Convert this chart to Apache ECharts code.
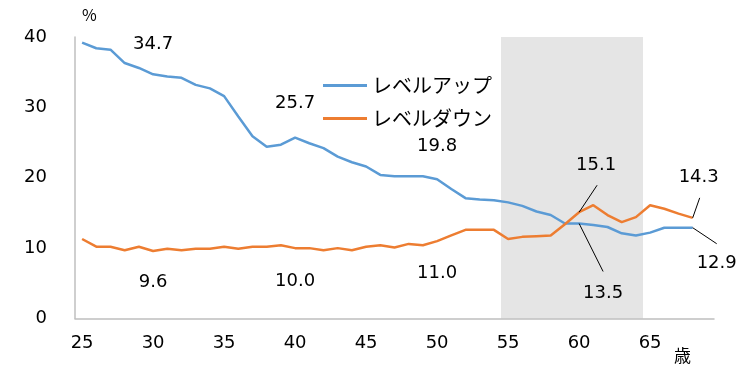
<!DOCTYPE html>
<html>
<head>
<meta charset="utf-8">
<script src="https://cdn.jsdelivr.net/npm/echarts@6/dist/echarts.min.js"></script>
<style>
  html, body { margin: 0; padding: 0; background: #fff; }
  #chart { width: 747px; height: 378px; }
</style>
</head>
<body>
<div id="chart"></div>
<script>
// 年齢 (25〜69歳、69は空き)
const ages = ['25', '26', '27', '28', '29', '30', '31', '32', '33', '34',
  '35', '36', '37', '38', '39', '40', '41', '42', '43', '44',
  '45', '46', '47', '48', '49', '50', '51', '52', '53', '54',
  '55', '56', '57', '58', '59', '60', '61', '62', '63', '64',
  '65', '66', '67', '68', '69']

const levelUp = [39.2, 38.4, 38.2, 36.3, 35.6, 34.7, 34.4, 34.2, 33.2, 32.7,
  31.6, 28.7, 25.9, 24.4, 24.7, 25.7, 24.9, 24.2, 23.0, 22.2,
  21.6, 20.4, 20.2, 20.2, 20.2, 19.8, 18.4, 17.1, 16.9, 16.8,
  16.5, 16.0, 15.2, 14.7, 13.5, 13.5, 13.3, 13.0, 12.1, 11.8,
  12.2, 12.9, 12.9, 12.9, null]

const levelDown = [11.3, 10.2, 10.2, 9.7, 10.2, 9.6, 9.9, 9.7, 9.9, 9.9,
  10.2, 9.9, 10.2, 10.2, 10.4, 10.0, 10.0, 9.7, 10.0, 9.7,
  10.2, 10.4, 10.1, 10.6, 10.4, 11.0, 11.8, 12.6, 12.6, 12.6,
  11.3, 11.6, 11.7, 11.8, 13.4, 15.1, 16.1, 14.7, 13.7, 14.4,
  16.1, 15.6, 14.9, 14.3, null]

// 網掛けの範囲 (55〜64歳)
const shadeFrom = '55'
const shadeTo = '64'
const yTicks = { min: 0, max: 40, interval: 10 }

// 数値ラベルを付ける年齢と、ラベルの位置ずれ [dx, dy]
const upLabels = { '30': [0, -30], '40': [0, -34], '50': [0, -33], '60': [24, 70], '68': [24, 36] }
const downLabels = { '30': [0, 31], '40': [0, 33], '50': [0, 32], '60': [17, -47], '68': [6, -41] }
// 引き出し線の先端 (点からのずれ)
const upCallouts = { '60': [24, 48], '68': [24, 16] }
const downCallouts = { '60': [18, -27], '68': [7, -20] }

const numFont = 'DejaVu Sans'
const jpFont = 'Noto Sans CJK JP'

const withLabels = (values, labels) => values.map((v, i) => {
  const off = labels[ages[i]]
  if (!off) return v
  return {
    value: v,
    label: {
      show: true,
      position: 'inside',
      offset: off,
      formatter: (p) => p.value.toFixed(1)
    }
  }
})

const chart = echarts.init(document.getElementById('chart'))

const lineLabel = {
  show: false,
  color: '#000',
  fontFamily: numFont,
  fontSize: 18
}

// 網掛け: 帯の端から端まで一枚の矩形
const renderShade = (params, api) => {
  const a = api.coord([api.value(0), api.value(2)])
  const b = api.coord([api.value(1), api.value(3)])
  const band = api.size([1, 0])[0]
  return {
    type: 'rect',
    silent: true,
    shape: { x: a[0] - band / 2, y: b[1], width: b[0] - a[0] + band, height: a[1] - b[1] },
    style: { fill: '#e5e5e5' }
  }
}

chart.setOption({
  animation: false,
  grid: { left: 75, right: 33, top: 37, bottom: 59.5 },
  legend: {
    data: ['レベルアップ', 'レベルダウン'],
    orient: 'vertical',
    left: 318,
    top: 70,
    icon: 'rect',
    itemWidth: 44,
    itemHeight: 3,
    itemGap: 12,
    itemTextGap: 6,
    textStyle: { fontFamily: jpFont, fontSize: 20, color: '#000', lineHeight: 21 }
  },
  xAxis: {
    type: 'category',
    data: ages,
    boundaryGap: true,
    axisLine: { lineStyle: { color: '#bfbfbf', width: 1.5 } },
    axisTick: { show: false },
    axisLabel: { interval: 4, margin: 16, color: '#000', fontFamily: numFont, fontSize: 18 },
    splitLine: { show: false }
  },
  yAxis: {
    type: 'value',
    min: yTicks.min,
    max: yTicks.max,
    interval: yTicks.interval,
    axisLine: { show: true, lineStyle: { color: '#bfbfbf', width: 1.5 } },
    axisTick: { show: false },
    axisLabel: { margin: 28, color: '#000', fontFamily: numFont, fontSize: 18 },
    splitLine: { show: false }
  },
  series: [
    {
      name: 'shade',
      type: 'custom',
      renderItem: renderShade,
      data: [[ages.indexOf(shadeFrom), ages.indexOf(shadeTo), yTicks.min, yTicks.max]],
      encode: { x: [0, 1], y: [2, 3] },
      silent: true,
      z: 0
    },
    {
      name: 'レベルアップ',
      type: 'line',
      data: withLabels(levelUp, upLabels),
      symbol: 'circle',
      symbolSize: 0,
      showSymbol: true,
      color: '#5b9bd5',
      lineStyle: { width: 2.5, color: '#5b9bd5' },
      label: lineLabel,
      z: 3
    },
    {
      name: 'レベルダウン',
      type: 'line',
      data: withLabels(levelDown, downLabels),
      symbol: 'circle',
      symbolSize: 0,
      showSymbol: true,
      color: '#ed7d31',
      lineStyle: { width: 2.5, color: '#ed7d31' },
      label: lineLabel,
      z: 3
    }
  ]
})

// 引き出し線と単位ラベル
const calloutLines = []
const addCallouts = (seriesIndex, values, callouts) => {
  Object.keys(callouts).forEach(age => {
    const i = ages.indexOf(age)
    const p = chart.convertToPixel({ seriesIndex }, [i, values[i]])
    const d = callouts[age]
    calloutLines.push({
      type: 'line',
      silent: true,
      z: 10,
      shape: { x1: p[0], y1: p[1], x2: p[0] + d[0], y2: p[1] + d[1] },
      style: { stroke: '#000', lineWidth: 1 }
    })
  })
}
addCallouts(1, levelUp, upCallouts)
addCallouts(2, levelDown, downCallouts)

chart.setOption({
  graphic: [
    { type: 'text', left: 82, top: 7, style: { text: '%', fontFamily: jpFont, fontSize: 16, fill: '#000' } },
    { type: 'text', left: 674, top: 347, style: { text: '歳', fontFamily: jpFont, fontSize: 17, fill: '#000' } }
  ].concat(calloutLines)
})
</script>
</body>
</html>
